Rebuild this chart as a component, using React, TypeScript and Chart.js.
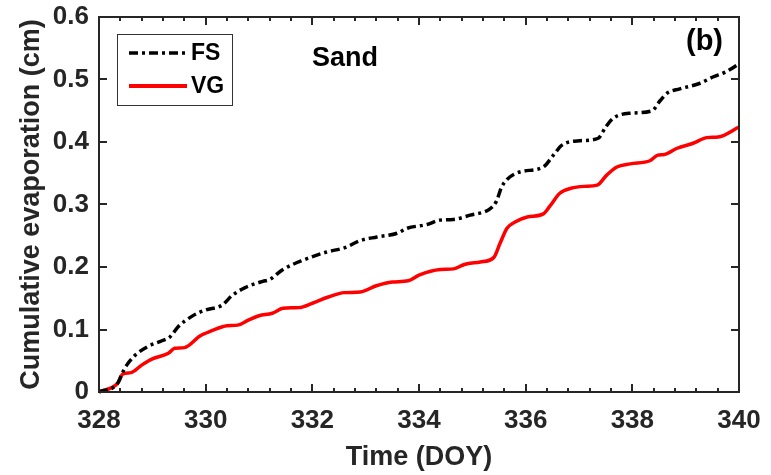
import React, { useEffect, useRef } from "react";
import { Chart, registerables } from "chart.js";

Chart.register(...registerables);

// ---- Data ----
const fsDoy = [
  328.0, 328.35, 328.43, 328.52, 328.68, 328.92, 329.18, 329.33, 329.48, 329.74,
  329.99, 330.31, 330.49, 330.74, 331.07, 331.2, 331.45, 331.83, 332.27, 332.61,
  332.89, 333.21, 333.59, 333.78, 334.15, 334.39, 334.64, 334.96, 335.33, 335.45,
  335.55, 335.65, 335.89, 336.33, 336.52, 336.68, 337.02, 337.36, 337.5, 337.64,
  337.96, 338.37, 338.52, 338.65, 338.89, 339.27, 339.51, 339.75, 340.0,
];
const fsValues = [
  0.0, 0.014, 0.029, 0.043, 0.059, 0.073, 0.082, 0.088, 0.104, 0.121,
  0.131, 0.139, 0.154, 0.167, 0.177, 0.18, 0.196, 0.211, 0.224, 0.231,
  0.242, 0.248, 0.254, 0.262, 0.268, 0.275, 0.276, 0.283, 0.293, 0.305,
  0.328, 0.34, 0.352, 0.36, 0.379, 0.395, 0.402, 0.406, 0.424, 0.438,
  0.446, 0.45, 0.466, 0.478, 0.485, 0.494, 0.504, 0.512, 0.525,
];

const vgDoy = [
  328.0, 328.35, 328.45, 328.6, 328.8, 329.0, 329.3, 329.42, 329.6, 329.9,
  330.0, 330.3, 330.4, 330.6, 330.8, 331.0, 331.25, 331.45, 331.75, 332.0,
  332.3, 332.6, 332.9, 333.2, 333.5, 333.8, 334.0, 334.4, 334.65, 334.85,
  335.15, 335.4, 335.52, 335.65, 335.8, 336.03, 336.33, 336.45, 336.64, 336.85,
  337.1, 337.34, 337.52, 337.71, 337.96, 338.33, 338.48, 338.6, 338.84, 339.14,
  339.4, 339.61, 340.0,
];
const vgValues = [
  0.0, 0.014, 0.029, 0.031, 0.043, 0.053, 0.062, 0.07, 0.071, 0.09,
  0.094, 0.104, 0.106, 0.107, 0.115, 0.122, 0.126, 0.134, 0.135, 0.142,
  0.152, 0.159, 0.16, 0.17, 0.176, 0.178, 0.187, 0.196, 0.197, 0.204,
  0.208, 0.215, 0.238, 0.262, 0.272, 0.28, 0.285, 0.297, 0.318, 0.326,
  0.329, 0.331, 0.347, 0.36, 0.365, 0.37, 0.379, 0.38, 0.39, 0.398,
  0.407, 0.408, 0.424,
];

const xMin = 328;
const xMax = 340;
const xMajorStep = 2;
const xMinorStep = 0.4;
const yMin = 0;
const yMax = 0.6;
const yStep = 0.1;

const seriesNames = ["FS", "VG"];
const panelLabel = "(b)";
const soilLabel = "Sand";
const xTitle = "Time (DOY)";
const yTitle = "Cumulative evaporation (cm)";

const FONT = '"Liberation Sans", Arial, Helvetica, sans-serif';
const AXIS_COLOR = "#262626";
const FS_DASH = [9, 4, 3, 4];

const framePlugin = {
  id: "frame",
  afterDatasetsDraw(chart: any) {
    const { ctx, chartArea } = chart;
    const { left, right, top, bottom } = chartArea;
    const xs = chart.scales.x;
    const ys = chart.scales.y;
    ctx.save();
    ctx.strokeStyle = AXIS_COLOR;
    ctx.lineWidth = 2;
    ctx.lineCap = "butt";
    // ticks on x (bottom and top), inward
    const nMinor = Math.round((xMax - xMin) / xMinorStep);
    for (let i = 0; i <= nMinor; i++) {
      const v = xMin + i * xMinorStep;
      const px = Math.round(xs.getPixelForValue(v));
      const isMajor = Math.abs(v / xMajorStep - Math.round(v / xMajorStep)) < 1e-6;
      const len = isMajor ? 8 : 4;
      ctx.beginPath();
      ctx.moveTo(px, bottom);
      ctx.lineTo(px, bottom - len);
      ctx.moveTo(px, top);
      ctx.lineTo(px, top + len);
      ctx.stroke();
    }
    const nY = Math.round((yMax - yMin) / yStep);
    for (let i = 0; i <= nY; i++) {
      const v = yMin + i * yStep;
      const py = Math.round(ys.getPixelForValue(v));
      ctx.beginPath();
      ctx.moveTo(left, py);
      ctx.lineTo(left + 8, py);
      ctx.moveTo(right, py);
      ctx.lineTo(right - 8, py);
      ctx.stroke();
    }
    // box
    ctx.strokeRect(left, top, right - left, bottom - top);

    // legend box
    const lx = left + 18;
    const ly = top + 17;
    const lw = 115;
    const lh = 71;
    ctx.fillStyle = "#ffffff";
    ctx.fillRect(lx, ly, lw, lh);
    ctx.lineWidth = 1;
    ctx.strokeStyle = "#333333";
    ctx.strokeRect(lx + 0.5, ly + 0.5, lw, lh);

    // FS entry
    ctx.lineWidth = 3.5;
    ctx.strokeStyle = "#000000";
    ctx.setLineDash(FS_DASH);
    ctx.beginPath();
    ctx.moveTo(lx + 12, ly + 19);
    ctx.lineTo(lx + 68, ly + 19);
    ctx.stroke();
    ctx.setLineDash([]);
    // VG entry
    ctx.strokeStyle = "#ff0000";
    ctx.lineWidth = 4;
    ctx.beginPath();
    ctx.moveTo(lx + 12, ly + 52);
    ctx.lineTo(lx + 70, ly + 52);
    ctx.stroke();

    ctx.fillStyle = "#000000";
    ctx.font = `bold 23px ${FONT}`;
    ctx.textAlign = "left";
    ctx.textBaseline = "middle";
    ctx.fillText(seriesNames[0], lx + 74, ly + 20);
    ctx.fillText(seriesNames[1], lx + 74, ly + 53);

    // annotations
    ctx.font = `bold 27px ${FONT}`;
    ctx.fillText(soilLabel, left + 213, top + 42);
    ctx.font = `bold 29px ${FONT}`;
    ctx.textAlign = "right";
    ctx.fillText(panelLabel, right - 16, top + 25);
    ctx.restore();
  },
};

export default function App() {
  const canvasRef = useRef<HTMLCanvasElement | null>(null);

  useEffect(() => {
    document.body.style.margin = "0";
    const canvas = canvasRef.current;
    if (!canvas) return;
    const chart = new Chart(canvas, {
      type: "line",
      data: {
        datasets: [
          {
            label: seriesNames[0],
            data: fsDoy.map((d, i) => ({ x: d, y: fsValues[i] })),
            borderColor: "#000000",
            borderWidth: 3.5,
            borderDash: FS_DASH,
            pointRadius: 0,
            cubicInterpolationMode: "monotone",
            fill: false,
            clip: false as any,
          },
          {
            label: seriesNames[1],
            data: vgDoy.map((d, i) => ({ x: d, y: vgValues[i] })),
            borderColor: "#ff0000",
            borderWidth: 3.5,
            pointRadius: 0,
            cubicInterpolationMode: "monotone",
            fill: false,
            clip: false as any,
          },
        ],
      },
      options: {
        animation: false,
        responsive: false,
        devicePixelRatio: 1,
        layout: { padding: { top: 17, right: 32, left: 0, bottom: 0 } },
        plugins: {
          legend: { display: false },
          tooltip: { enabled: false },
        },
        scales: {
          x: {
            type: "linear",
            min: xMin,
            max: xMax,
            border: { display: false },
            grid: { display: false, drawTicks: false },
            ticks: {
              stepSize: xMajorStep,
              padding: 13,
              color: AXIS_COLOR,
              font: { family: FONT, size: 26, weight: "bold" },
              callback: (v: any) => String(Math.round(Number(v))),
              maxRotation: 0,
            },
            title: {
              display: true,
              text: xTitle,
              color: AXIS_COLOR,
              font: { family: FONT, size: 27, weight: "bold" },
              padding: { top: 0, bottom: 1 },
            },
            afterFit: (s: any) => {
              s.height = 83;
              s.paddingLeft = 0;
              s.paddingRight = 0;
            },
          },
          y: {
            type: "linear",
            min: yMin,
            max: yMax,
            border: { display: false },
            grid: { display: false, drawTicks: false },
            ticks: {
              stepSize: yStep,
              padding: 10,
              color: AXIS_COLOR,
              font: { family: FONT, size: 26, weight: "bold" },
              callback: (v: any) => String(Number(Number(v).toFixed(1))),
            },
            title: {
              display: true,
              text: yTitle,
              color: AXIS_COLOR,
              font: { family: FONT, size: 27, weight: "bold" },
              padding: { top: 15, bottom: 0 },
            },
            afterFit: (s: any) => {
              s.width = 99;
              s.paddingTop = 0;
              s.paddingBottom = 0;
            },
          },
        },
      },
      plugins: [framePlugin],
    } as any);
    return () => chart.destroy();
  }, []);

  return (
    <div style={{ position: "absolute", left: 0, top: 0, width: 771, height: 475, background: "#fff" }}>
      <canvas ref={canvasRef} width={771} height={475} style={{ width: 771, height: 475, display: "block" }} />
    </div>
  );
}
